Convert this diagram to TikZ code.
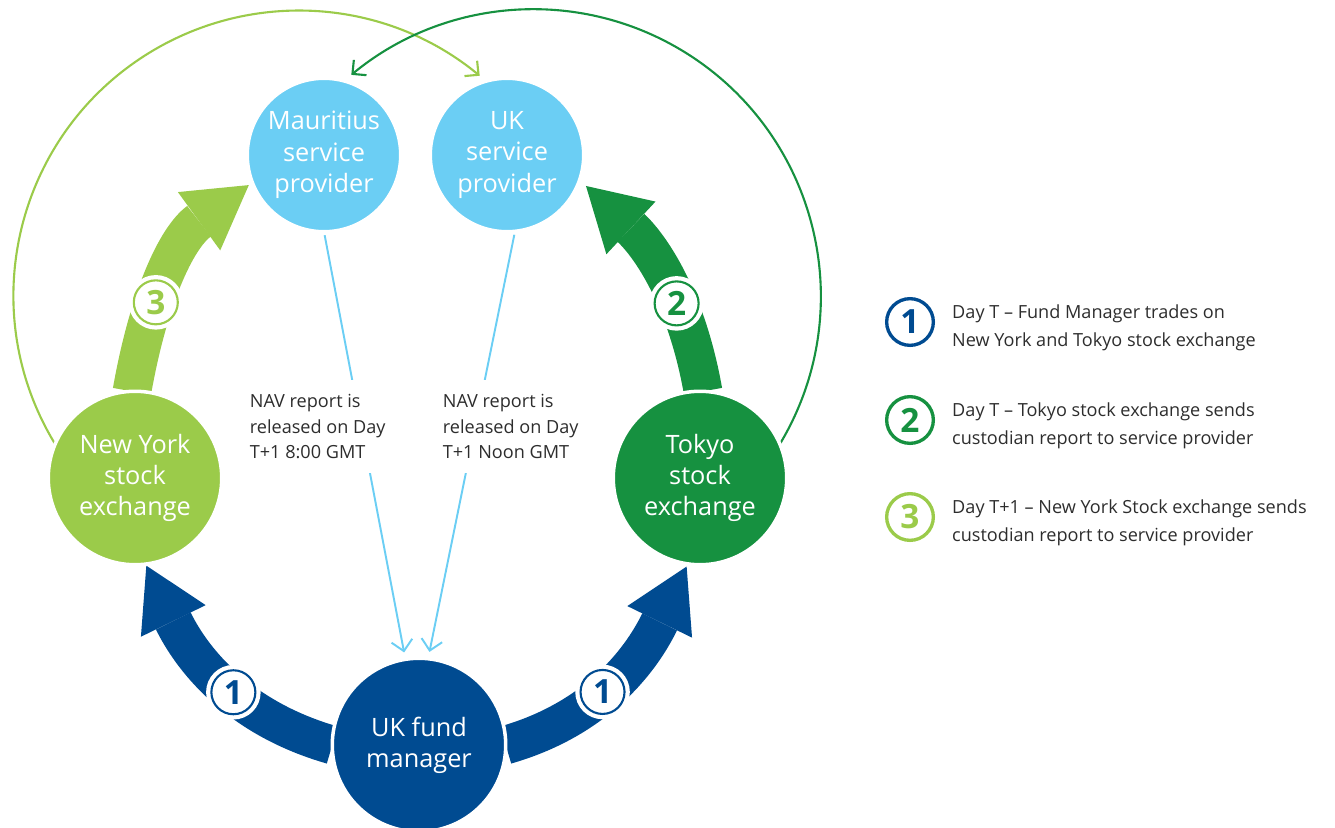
\documentclass[tikz,border=0pt]{standalone}
\usepackage{fontspec}
\setmainfont{Open Sans}
\usetikzlibrary{arrows.meta,positioning,backgrounds}

\definecolor{navy}{RGB}{0,75,145}
\definecolor{dkgreen}{RGB}{22,145,64}
\definecolor{ltgreen}{RGB}{155,203,74}
\definecolor{skyblue}{RGB}{107,206,244}
\definecolor{txtgray}{RGB}{45,45,45}

\tikzset{
  party/.style={circle,fill=#1,draw=white,line width=2pt,outer sep=0pt,inner sep=0pt,
    text=white,align=center,font=\fontsize{14.4}{17.8}\selectfont},
  provider/.style={party=skyblue,minimum size=3.07cm},
  market/.style={party=#1,minimum size=3.47cm},
  fat/.style={draw=#1,line width=22pt,-{Triangle[length=35pt,width=41pt,line width=0pt]}},
  badge/.style={circle,fill=white,draw=#1,text=#1,line width=1.2pt,minimum size=0.88cm,
    inner sep=0pt,preaction={draw=white,line width=6pt},font=\fontsize{19}{19}\selectfont\bfseries},
  legendmark/.style={circle,fill=white,draw=#1,text=#1,line width=1.9pt,minimum size=0.934cm,
    inner sep=0pt,font=\fontsize{19}{19}\selectfont\bfseries},
  backarc/.style={draw=#1,line width=1.2pt,-{Straight Barb[length=5.7pt,width=11.3pt]}},
  navline/.style={draw=skyblue,line width=1.1pt,shorten <=2pt,shorten >=4pt,
    -{Straight Barb[length=6pt,width=12pt]}},
  note/.style={align=left,text=txtgray,font=\fontsize{10.3}{14.5}\selectfont,
    fill=white,inner xsep=2pt,inner ysep=8pt,anchor=north west},
  legendtext/.style={align=left,text=txtgray,font=\fontsize{10.3}{16.4}\selectfont,inner sep=0pt},
}

\begin{document}
\begin{tikzpicture}[x=0.02cm,y=0.02cm]
\useasboundingbox (0,0) rectangle (1335,-828);

% the five parties
\node[provider] (ms) at (324,-155) {Mauritius\\service\\provider};
\node[provider] (uk) at (507,-155) {UK\\service\\provider};
\node[market=ltgreen] (ny) at (135,-478) {New York\\stock\\exchange};
\node[market=dkgreen] (tk) at (700,-478) {Tokyo\\stock\\exchange};
\node[market=navy] (fm) at (419,-745) {UK fund\\manager};

% NAV release notes
\node[note] (nav1) at (246,-380) {NAV report is\\released on Day\\T+1 8:00 GMT};
\node[note] (nav2) at (439,-380) {NAV report is\\released on Day\\T+1 Noon GMT};

\begin{scope}[on background layer]
% trades and custodian reports
\draw[fat=navy,shorten >=1pt] (fm.180) to[out=164,in=296] node[badge=navy,pos=.42] {1} (ny.277);
\draw[fat=navy,shorten >=1.7pt] (fm.0) to[out=16,in=244] node[badge=navy,pos=.42] {1} (tk.262);
\draw[fat=ltgreen,shorten >=2.5pt] (ny.92) to[out=80,in=216] node[badge=ltgreen,pos=.36] {3} (ms.201);
\draw[fat=dkgreen,shorten >=5pt] (tk.88) to[out=100,in=317] node[badge=dkgreen,pos=.36] {2} (uk.341);

% long way round
\draw[backarc=ltgreen] (ny.157) arc[start angle=211.4,end angle=50.5,radius=285];
\draw[backarc=dkgreen] (tk.23) arc[start angle=-31,end angle=129.5,radius=287];

% NAV to the fund manager
\draw[navline] (ms.270) -- (fm.99);
\draw[navline] (uk.276) -- (fm.84);
\end{scope}

% legend
\node[legendmark=navy] (lg1) at (910,-322) {1};
\node[legendmark=dkgreen] (lg2) at (910,-420) {2};
\node[legendmark=ltgreen] (lg3) at (910,-517) {3};
\node[legendtext,right=9.6pt of lg1,yshift=-3.3pt] (lt1) {Day T – Fund Manager trades on\\New York and Tokyo stock exchange};
\node[legendtext,right=9.6pt of lg2,yshift=-3.3pt] (lt2) {Day T – Tokyo stock exchange sends\\custodian report to service provider};
\node[legendtext,right=9.6pt of lg3,yshift=-3.3pt] (lt3) {Day T+1 – New York Stock exchange sends\\custodian report to service provider};

\end{tikzpicture}
\end{document}
